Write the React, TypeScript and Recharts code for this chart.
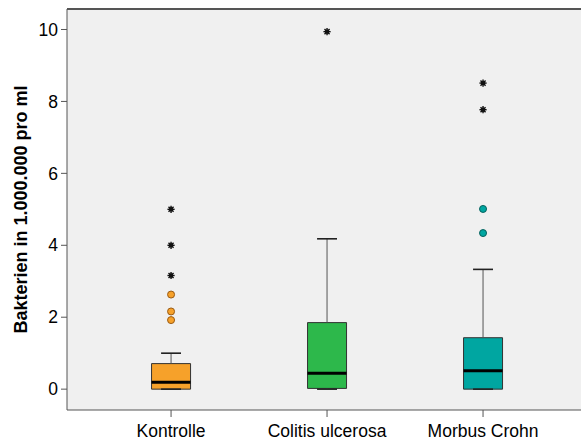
import React from 'react';
import {
  ComposedChart,
  XAxis,
  YAxis,
  CartesianGrid,
  ReferenceArea,
  ReferenceLine,
  Scatter,
} from 'recharts';

document.body.style.margin = '0';

const FONT = '"Liberation Sans", Arial, Helvetica, sans-serif';

// groups and their five-number summaries (Bakterien in 1.000.000 pro ml)
const categories = ['Kontrolle', 'Colitis ulcerosa', 'Morbus Crohn'];
const whiskerLow = [0, 0, 0];
const q1 = [0, 0.02, 0];
const median = [0.19, 0.44, 0.51];
const q3 = [0.71, 1.85, 1.43];
const whiskerHigh = [1.0, 4.18, 3.33];

// outliers (circles) and extreme values (stars)
const outliers = [[1.92, 2.16, 2.63], [], [4.34, 5.01]];
const extremes = [[3.16, 4.0, 5.0], [9.94], [7.77, 8.51]];

const yTicks = [0, 2, 4, 6, 8, 10];

const boxColors = ['#F6A12A', '#2DB84B', '#00A6A1'];
const outlierStroke = ['#9A5A12', '#1C6E2C', '#05605C'];

const BOX_HALF = 0.125;
const CAP_HALF = 0.064;
const X_DOMAIN: [number, number] = [0.333, 3.628];
const Y_DOMAIN: [number, number] = [-0.58, 10.57];

const Star = (props: any) => {
  const { cx, cy } = props;
  if (cx == null || cy == null) return null;
  const r = 3.6;
  const d = r * 0.7071;
  return (
    <g stroke="#111" strokeWidth={1.4}>
      <line x1={cx - r} y1={cy} x2={cx + r} y2={cy} />
      <line x1={cx} y1={cy - r} x2={cx} y2={cy + r} />
      <line x1={cx - d} y1={cy - d} x2={cx + d} y2={cy + d} />
      <line x1={cx - d} y1={cy + d} x2={cx + d} y2={cy - d} />
      <circle cx={cx} cy={cy} r={2.2} fill="#111" stroke="none" />
    </g>
  );
};

const makeCircle = (fill: string, stroke: string) => (props: any) => {
  const { cx, cy } = props;
  if (cx == null || cy == null) return null;
  return <circle cx={cx} cy={cy} r={3.5} fill={fill} stroke={stroke} strokeWidth={1} />;
};

const YTitle = (props: any) => {
  const vb = props.viewBox || {};
  const x = (vb.x || 0) + 21;
  const y = (vb.y || 0) + (vb.height || 0) / 2;
  return (
    <text
      x={x}
      y={y}
      transform={`rotate(-90, ${x}, ${y})`}
      textAnchor="middle"
      dominantBaseline="central"
      fontFamily={FONT}
      fontSize={18}
      fontWeight="bold"
      fill="#000"
    >
      Bakterien in 1.000.000 pro ml
    </text>
  );
};

export default function App() {
  const starData = extremes.flatMap((vals, i) => vals.map((y) => ({ x: i + 1, y })));

  return (
    <div style={{ width: 581, height: 443, background: '#fff' }}>
      <ComposedChart
        width={581}
        height={443}
        margin={{ top: 9, right: 0, bottom: 0, left: 0 }}
      >
        <CartesianGrid fill="#F0F0F0" horizontal={false} vertical={false} stroke="none" />
        <XAxis
          dataKey="x"
          type="number"
          domain={X_DOMAIN}
          allowDataOverflow
          ticks={[1, 2, 3]}
          tickFormatter={(v: number) => categories[Math.round(v) - 1] ?? ''}
          height={33}
          tickSize={7}
          tickMargin={8}
          stroke="#555"
          tick={{ fill: '#000', fontSize: 17.5, fontFamily: FONT }}
        />
        <YAxis
          type="number"
          domain={Y_DOMAIN}
          allowDataOverflow
          ticks={yTicks}
          width={67}
          tickSize={6}
          tickMargin={3}
          stroke="#555"
          tick={{ fill: '#000', fontSize: 17.5, fontFamily: FONT }}
          label={<YTitle />}
        />
        <ReferenceLine y={Y_DOMAIN[1]} stroke="#555" strokeWidth={2} ifOverflow="visible" />

        {categories.map((c, i) => {
          const x = i + 1;
          return (
            <React.Fragment key={c}>
              <ReferenceLine
                segment={[{ x, y: q3[i] }, { x, y: whiskerHigh[i] }]}
                stroke="#555"
                strokeWidth={1}
              />
              <ReferenceLine
                segment={[{ x, y: whiskerLow[i] }, { x, y: q1[i] }]}
                stroke="#555"
                strokeWidth={1}
              />
              <ReferenceLine
                segment={[{ x: x - CAP_HALF, y: whiskerHigh[i] }, { x: x + CAP_HALF, y: whiskerHigh[i] }]}
                stroke="#222"
                strokeWidth={1.6}
              />
              <ReferenceLine
                segment={[{ x: x - CAP_HALF, y: whiskerLow[i] }, { x: x + CAP_HALF, y: whiskerLow[i] }]}
                stroke="#222"
                strokeWidth={1.6}
              />
              <ReferenceArea
                x1={x - BOX_HALF}
                x2={x + BOX_HALF}
                y1={q1[i]}
                y2={q3[i]}
                fill={boxColors[i]}
                fillOpacity={1}
                stroke="#333"
                strokeWidth={1}
              />
              <ReferenceLine
                segment={[{ x: x - BOX_HALF, y: median[i] }, { x: x + BOX_HALF, y: median[i] }]}
                stroke="#000"
                strokeWidth={3}
              />
            </React.Fragment>
          );
        })}

        {categories.map((c, i) => (
          <Scatter
            key={`out-${c}`}
            data={outliers[i].map((y) => ({ x: i + 1, y }))}
            dataKey="y"
            shape={makeCircle(boxColors[i], outlierStroke[i])}
            isAnimationActive={false}
          />
        ))}
        <Scatter data={starData} dataKey="y" shape={Star} isAnimationActive={false} />
      </ComposedChart>
    </div>
  );
}
